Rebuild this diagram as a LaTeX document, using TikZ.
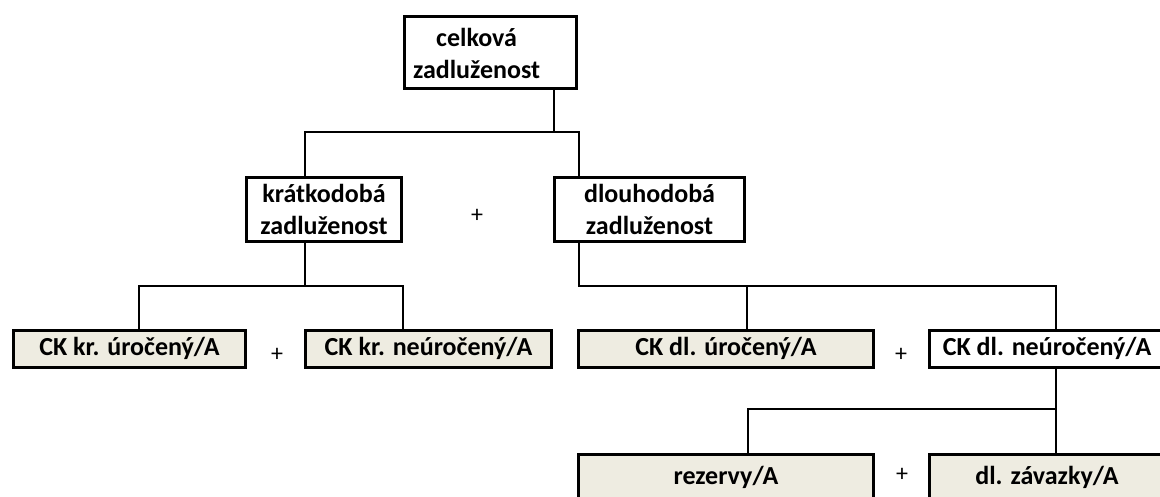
\documentclass[tikz,border=0pt]{standalone}
\usepackage{fontspec}
\setmainfont{Carlito}
\usepackage{xcolor}
\usepackage{tikz}
\usetikzlibrary{positioning}
\definecolor{bezova}{HTML}{EEECE1}

\begin{document}
\begin{tikzpicture}[x=1pt,y=-1pt,
	blok/.style={draw,line width=3pt,fill=white,inner sep=0pt,align=center,font=\fontsize{26}{32}\selectfont\bfseries},
	blokB/.style={blok,fill=bezova},
	spoj/.style={line width=2pt,line join=miter},
	plus/.style={font=\fontsize{24}{28}\selectfont}]
	\useasboundingbox (0,0) rectangle (1160,496);
	\clip (0,0) rectangle (1160,496);
	\node [blok,minimum width=172pt,minimum height=72pt,text width=155pt,align=left] (celk) at (490.5,52.5) {\begin{tabular}{@{}c@{}}\rule{0pt}{30.4pt}celková\\zadluženost\end{tabular}};
	\node [blok,minimum width=155pt,minimum height=64pt] (krat) at (324,209.5) {krátkodobá\\zadluženost};
	\node [blok,minimum width=190pt,minimum height=64pt] (dlouh) at (649.5,209.5) {dlouhodobá\\zadluženost};
	\node [plus] (p1) at (477,216) {+};
	\node [blokB,minimum width=232pt,minimum height=37pt] (ck1) at (129.5,348.5) {CK kr. úročený/A};
	\node [blokB,minimum width=246pt,minimum height=37pt] (ck2) at (428.5,348.5) {CK kr. neúročený/A};
	\node [blokB,minimum width=295pt,minimum height=37pt] (ck3) at (726,348.5) {CK dl. úročený/A};
	\node [blok,minimum width=235pt,minimum height=37pt] (ck4) at (1047,348.5) {CK dl. neúročený/A};
	\node [plus] (p2) at (277,355) {+};
	\node [plus] (p3) at (901,355) {+};
	\node [blokB,minimum width=295pt,minimum height=45pt] (rez) at (726,477) {rezervy/A};
	\node [blokB,minimum width=235pt,minimum height=45pt] (zav) at (1047,477) {dl. závazky/A};
	\node [plus] (p4) at (902,475) {+};
	\coordinate (c1) at (554,132);
	\coordinate (k1) at (305,132);
	\coordinate (d1) at (579,132);
	\coordinate (k2) at (305,286);
	\coordinate (a1) at (139,286);
	\coordinate (a2) at (403,286);
	\coordinate (d2) at (579,286);
	\coordinate (b1) at (747,286);
	\coordinate (b2) at (1056,286);
	\coordinate (e1) at (748,409);
	\coordinate (e2) at (1056,409);
	\draw [spoj] (celk.south -| c1) -- (c1);
	\draw [spoj] (krat.north -| k1) -- (k1) -- (d1) -- (dlouh.north -| d1);
	\draw [spoj] (krat.south -| k2) -- (k2);
	\draw [spoj] (ck1.north -| a1) -- (a1) -- (a2) -- (ck2.north -| a2);
	\draw [spoj] (dlouh.south -| d2) -- (d2) -- (b2) -- (ck4.north -| b2);
	\draw [spoj] (b1) -- (ck3.north -| b1);
	\draw [spoj] (ck4.south -| e2) -- (e2);
	\draw [spoj] (rez.north -| e1) -- (e1) -- (e2) -- (zav.north -| e2);
\end{tikzpicture}
\end{document}
